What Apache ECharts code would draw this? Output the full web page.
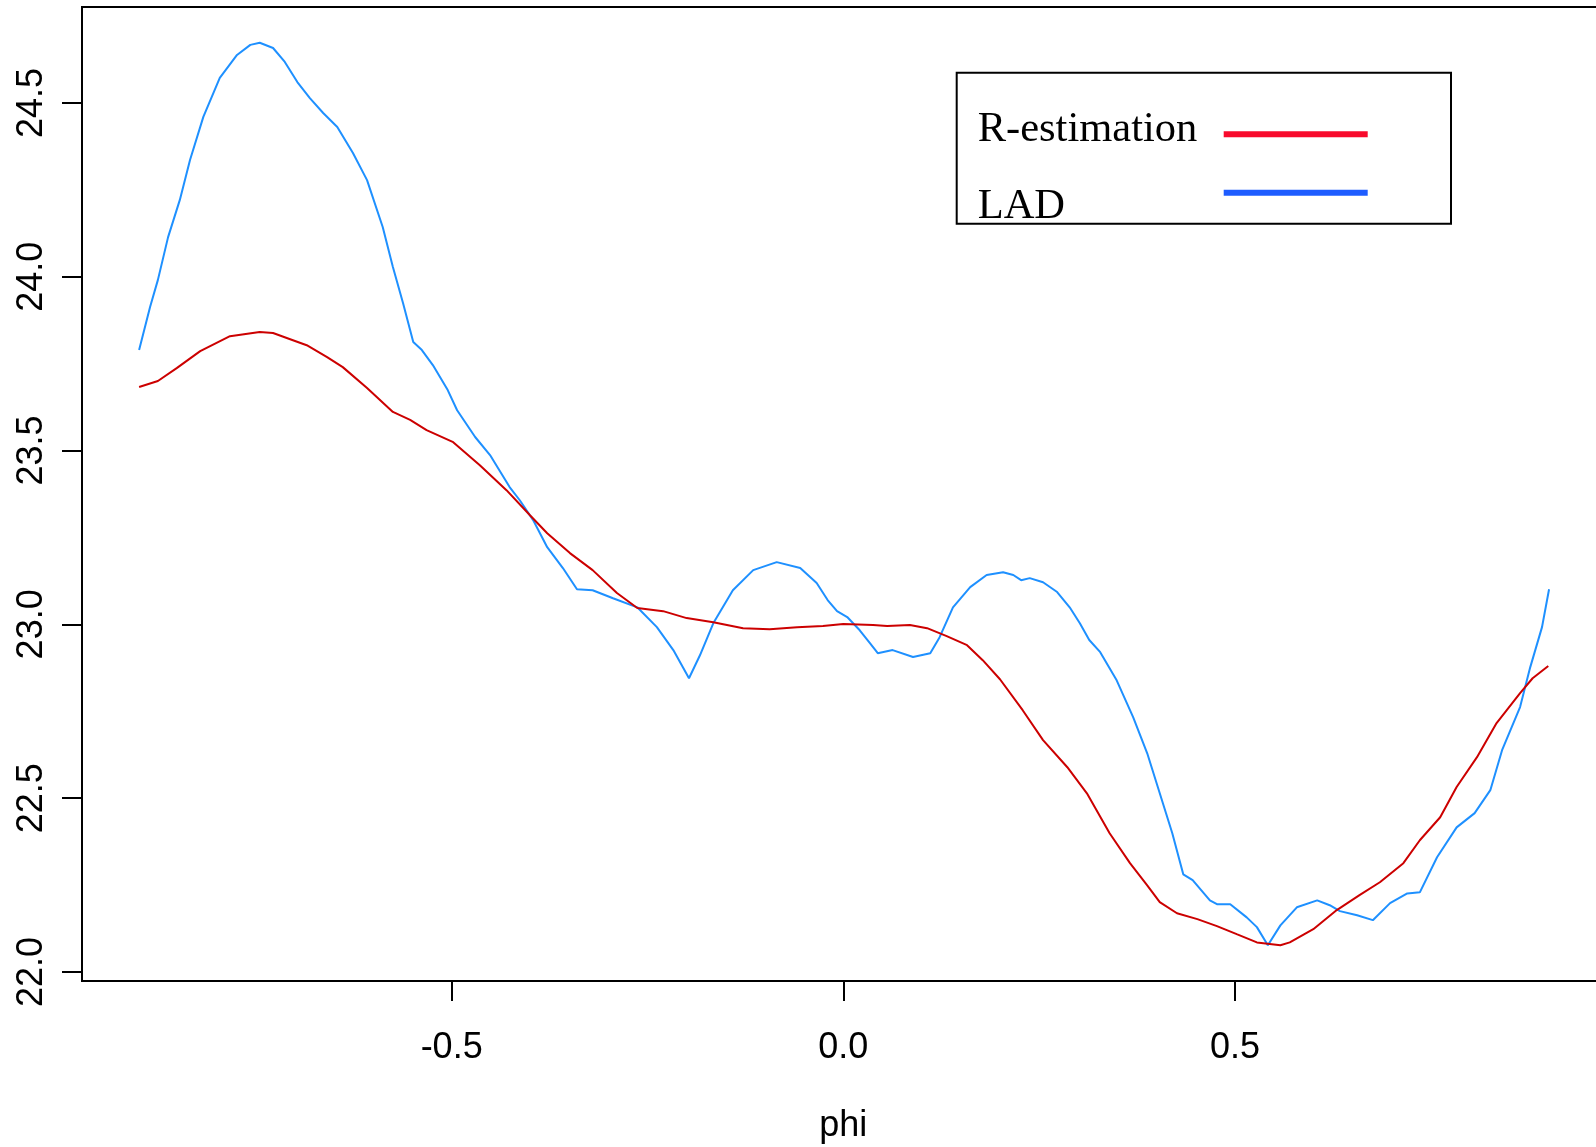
<!DOCTYPE html>
<html>
<head>
<meta charset="utf-8">
<script src="https://cdn.jsdelivr.net/npm/echarts@6/dist/echarts.min.js"></script>
<style>html,body{margin:0;padding:0;background:#fff;}#chart{width:1596px;height:1147px;}</style>
</head>
<body>
<div id="chart"></div>
<script>
// ---- data ----
var lad_phi = [
  -0.899,-0.885,-0.875,-0.862,-0.847,-0.834,-0.817,-0.796,-0.774,-0.757,
  -0.745,-0.728,-0.713,-0.697,-0.681,-0.664,-0.646,-0.626,-0.608,-0.588,
  -0.575,-0.562,-0.549,-0.538,-0.524,-0.505,-0.493,-0.470,-0.451,-0.426,
  -0.413,-0.396,-0.378,-0.358,-0.340,-0.320,-0.294,-0.263,-0.238,-0.217,
  -0.197,-0.183,-0.166,-0.141,-0.115,-0.085,-0.055,-0.034,-0.020,-0.008,
  0.005,0.021,0.034,0.044,0.063,0.089,0.111,0.123,0.140,0.162,
  0.183,0.204,0.217,0.227,0.238,0.255,0.273,0.289,0.302,0.314,
  0.328,0.349,0.370,0.388,0.404,0.420,0.434,0.446,0.468,0.477,
  0.494,0.515,0.528,0.542,0.558,0.579,0.605,0.621,0.634,0.656,
  0.676,0.698,0.720,0.736,0.758,0.783,0.806,0.826,0.841,0.864,
  0.877,0.892,0.901
];
var lad_val = [
  23.789,23.913,23.991,24.114,24.221,24.336,24.460,24.572,24.638,24.667,
  24.673,24.658,24.618,24.560,24.514,24.471,24.431,24.356,24.278,24.143,
  24.028,23.924,23.812,23.789,23.746,23.674,23.616,23.539,23.487,23.395,
  23.357,23.300,23.222,23.162,23.101,23.098,23.075,23.049,22.992,22.926,
  22.845,22.911,23.003,23.098,23.156,23.179,23.162,23.119,23.070,23.038,
  23.021,22.983,22.946,22.917,22.926,22.906,22.917,22.963,23.049,23.107,
  23.142,23.150,23.142,23.127,23.133,23.121,23.093,23.049,23.003,22.955,
  22.920,22.839,22.733,22.629,22.514,22.399,22.281,22.264,22.206,22.195,
  22.195,22.157,22.129,22.077,22.134,22.186,22.206,22.192,22.175,22.163,
  22.149,22.198,22.226,22.229,22.330,22.416,22.457,22.523,22.638,22.762,
  22.877,22.992,23.101
];
var r_phi = [
  -0.899,-0.875,-0.851,-0.821,-0.783,-0.745,-0.728,-0.707,-0.685,-0.659,
  -0.639,-0.608,-0.575,-0.553,-0.532,-0.498,-0.464,-0.430,-0.400,-0.378,
  -0.349,-0.320,-0.289,-0.263,-0.230,-0.200,-0.166,-0.128,-0.094,-0.059,
  -0.026,0.000,0.038,0.056,0.085,0.107,0.132,0.158,0.178,0.200,
  0.229,0.255,0.286,0.311,0.340,0.366,0.388,0.404,0.426,0.452,
  0.477,0.503,0.528,0.558,0.570,0.600,0.630,0.659,0.685,0.715,
  0.736,0.762,0.783,0.809,0.834,0.864,0.880,0.900
];
var r_val = [
  23.683,23.700,23.737,23.786,23.829,23.841,23.838,23.821,23.803,23.769,
  23.740,23.680,23.611,23.588,23.559,23.524,23.458,23.386,23.314,23.262,
  23.205,23.156,23.090,23.047,23.038,23.018,23.006,22.989,22.986,22.992,
  22.995,23.001,22.998,22.995,22.998,22.989,22.966,22.940,22.897,22.842,
  22.753,22.667,22.589,22.514,22.399,22.313,22.249,22.201,22.169,22.152,
  22.132,22.108,22.085,22.077,22.085,22.123,22.178,22.221,22.258,22.313,
  22.379,22.445,22.532,22.618,22.716,22.802,22.845,22.880
];
var xTicks = [-0.5, 0, 0.5];
var yTicks = [22, 22.5, 23, 23.5, 24, 24.5];
var seriesNames = ['R-estimation', 'LAD'];
var xName = 'phi';

function pairs(xs, ys) { return xs.map(function (x, i) { return [x, ys[i]]; }); }

var sansFont = '"Liberation Sans", Arial, sans-serif';
var serifFont = '"Liberation Serif", "Times New Roman", serif';

var chart = echarts.init(document.getElementById('chart'));
chart.setOption({
  animation: false,
  backgroundColor: '#fff',
  grid: { left: 82, right: -8.6, top: 7, bottom: 166, show: true, borderColor: '#000', borderWidth: 2,
    backgroundColor: 'transparent', outerBoundsMode: 'none', containLabel: false },
  xAxis: {
    type: 'value', min: -0.9719, max: 0.9719,
    name: xName, nameLocation: 'middle', nameGap: 127,
    nameTextStyle: { fontSize: 36, color: '#000', fontFamily: sansFont },
    axisLine: { show: false, onZero: false },
    axisTick: { show: true, inside: false, length: 20, lineStyle: { color: '#000', width: 2 }, customValues: xTicks },
    axisLabel: { show: true, customValues: xTicks, margin: 49, fontSize: 36, color: '#000', fontFamily: sansFont,
      formatter: function (v) { return Number(v).toFixed(1); } },
    splitLine: { show: false }
  },
  yAxis: {
    type: 'value', min: 21.974, max: 24.776,
    axisLine: { show: false, onZero: false },
    axisTick: { show: true, inside: false, length: 20, lineStyle: { color: '#000', width: 2 }, customValues: yTicks },
    axisLabel: { show: true, customValues: yTicks, rotate: 90, margin: 32, fontSize: 36, color: '#000', fontFamily: sansFont,
      formatter: function (v) { return Number(v).toFixed(1); } },
    splitLine: { show: false }
  },
  legend: [
    {
      data: [{ name: seriesNames[0], itemStyle: { color: '#F80A2C' } }],
      orient: 'vertical', align: 'right', left: 956.7, top: 72.7,
      padding: [36, 83.3, 64, 21], icon: 'rect', itemWidth: 144, itemHeight: 6,
      borderColor: '#000', borderWidth: 2, backgroundColor: '#fff',
      selectedMode: false,
      formatter: function (n) { return '{n|' + n + '}'; },
      textStyle: { rich: { n: { width: 241, align: 'left', fontSize: 42.5, lineHeight: 42, padding: [0, 0, 8, 0], fontFamily: serifFont, color: '#000' } } }
    },
    {
      data: [{ name: seriesNames[1], itemStyle: { color: '#1E5CFF' } }],
      orient: 'vertical', align: 'right', left: 977.7, top: 156.8,
      padding: 0, icon: 'rect', itemWidth: 144, itemHeight: 6,
      selectedMode: false,
      formatter: function (n) { return '{n|' + n + '}'; },
      textStyle: { rich: { n: { width: 241, align: 'left', fontSize: 42.5, lineHeight: 42, padding: [29, 0, 0, 0], fontFamily: serifFont, color: '#000' } } }
    }
  ],
  series: [
    { name: seriesNames[0], type: 'line', data: pairs(r_phi, r_val), showSymbol: false, symbol: 'none',
      lineStyle: { color: '#CC0000', width: 2 }, itemStyle: { color: '#CC0000' }, z: 3 },
    { name: seriesNames[1], type: 'line', data: pairs(lad_phi, lad_val), showSymbol: false, symbol: 'none',
      lineStyle: { color: '#1E90FF', width: 2 }, itemStyle: { color: '#1E90FF' }, z: 2 }
  ]
});
</script>
</body>
</html>
